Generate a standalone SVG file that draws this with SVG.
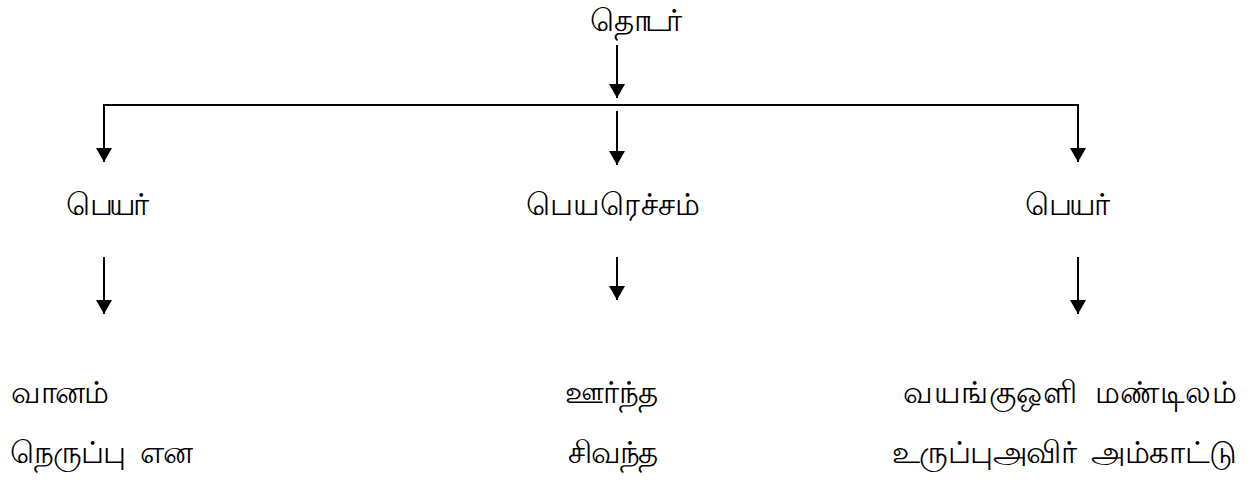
<svg xmlns="http://www.w3.org/2000/svg" width="1255" height="481" viewBox="0 0 1255 481">
<style>
text{font-family:"Noto Sans","DejaVu Sans",sans-serif;font-size:31px;fill:#000}
.l{stroke:#000;stroke-width:2;fill:none}
</style>
<defs>
<marker id="ah" markerUnits="userSpaceOnUse" markerWidth="14" markerHeight="16" refX="14" refY="8" orient="auto-start-reverse" viewBox="0 0 14 16">
<path d="M0,0 L14,8 L0,16 Z" fill="#000"/>
</marker>
</defs>
<rect width="1255" height="481" fill="#fff"/>
<g id="connectors">
<line class="l" x1="617" y1="45" x2="617" y2="98" marker-end="url(#ah)"/>
<polyline class="l" points="104,162 104,105 1078,105 1078,162" marker-start="url(#ah)" marker-end="url(#ah)"/>
<line class="l" x1="617" y1="111" x2="617" y2="165" marker-end="url(#ah)"/>
<line class="l" x1="104" y1="257" x2="104" y2="314" marker-end="url(#ah)"/>
<line class="l" x1="617" y1="257" x2="617" y2="300" marker-end="url(#ah)"/>
<line class="l" x1="1078" y1="257" x2="1078" y2="314" marker-end="url(#ah)"/>
</g>
<g id="root"><text x="585" y="31" textLength="92" lengthAdjust="spacing">தொடர்</text></g>
<g id="n1"><text x="62" y="215" textLength="83" lengthAdjust="spacing">பெயர்</text></g>
<g id="n2"><text x="526" y="215" textLength="174" lengthAdjust="spacing">பெயரெச்சம்</text></g>
<g id="n3"><text x="1022" y="215" textLength="85" lengthAdjust="spacing">பெயர்</text></g>
<g id="l1">
<text x="9" y="403" textLength="98" lengthAdjust="spacing">வானம்</text>
<text x="9" y="463" xml:space="preserve" textLength="183" lengthAdjust="spacing">நெருப்பு  என</text>
</g>
<g id="l2">
<text x="565" y="403" textLength="93" lengthAdjust="spacing">ஊர்ந்த</text>
<text x="567" y="463" textLength="90" lengthAdjust="spacing">சிவந்த</text>
</g>
<g id="l3">
<text x="903" y="403" xml:space="preserve" textLength="334" lengthAdjust="spacing">வயங்குஒளி  மண்டிலம்</text>
<text x="892" y="463" xml:space="preserve" textLength="345" lengthAdjust="spacing">உருப்புஅவிர்  அம்காட்டு</text>
</g>
</svg>
